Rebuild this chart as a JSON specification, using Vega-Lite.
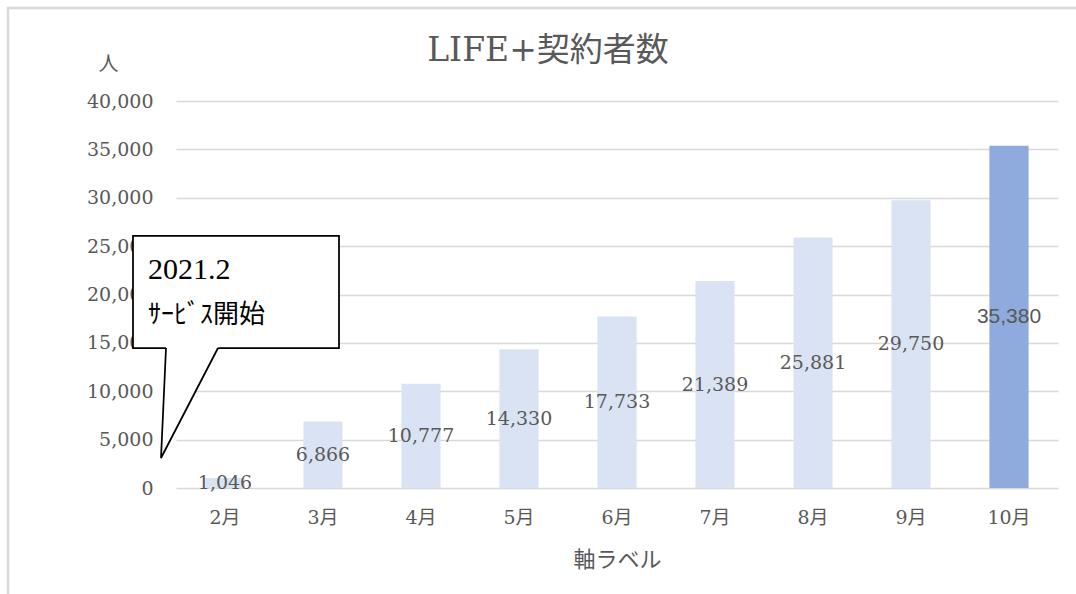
{
  "$schema": "https://vega.github.io/schema/vega-lite/v6.json",
  "width": 882,
  "height": 387,
  "autosize": "none",
  "padding": {"left": 176, "top": 101, "right": 18, "bottom": 106},
  "background": "white",
  "title": {
    "text": "LIFE+契約者数",
    "font": "DejaVu Serif, Noto Sans CJK JP",
    "fontSize": 33,
    "fontWeight": "normal",
    "color": "#595959",
    "anchor": "middle",
    "frame": "group",
    "dx": -69,
    "dy": 87,
    "offset": 0,
    "baseline": "alphabetic"
  },
  "config": {"view": {"stroke": null}},
  "datasets": {
    "contracts": [
      {"month": "2月", "value": 1046},
      {"month": "3月", "value": 6866},
      {"month": "4月", "value": 10777},
      {"month": "5月", "value": 14330},
      {"month": "6月", "value": 17733},
      {"month": "7月", "value": 21389},
      {"month": "8月", "value": 25881},
      {"month": "9月", "value": 29750},
      {"month": "10月", "value": 35380}
    ],
    "pointerFill": [
      {"y": 14625, "x": -0.1013, "x2": 0.4365},
      {"y": 3101, "x": -0.153, "x2": -0.153}
    ],
    "pointerEdge": [
      {"o": 1, "x": -0.102, "y": 14470},
      {"o": 2, "x": -0.153, "y": 3101},
      {"o": 3, "x": 0.4286, "y": 14470}
    ]
  },
  "resolve": {"scale": {"x": "independent", "y": "independent"}},
  "layer": [
    {
      "data": {"values": [{}]},
      "mark": {"type": "rect", "filled": false, "stroke": "#d9d9d9", "strokeWidth": 2.5, "clip": false},
      "encoding": {
        "x": {"datum": -1.714, "type": "quantitative", "scale": {"domain": [0, 9], "nice": false, "zero": false}, "axis": null},
        "x2": {"datum": 20},
        "y": {"datum": 49612, "type": "quantitative", "scale": {"domain": [0, 40000], "nice": false}, "axis": null},
        "y2": {"datum": -30000}
      }
    },
    {
      "data": {"name": "contracts"},
      "mark": {"type": "bar"},
      "encoding": {
        "x": {
          "field": "month", "type": "nominal", "sort": null,
          "scale": {"domain": ["2月", "3月", "4月", "5月", "6月", "7月", "8月", "9月", "10月"], "paddingInner": 0.6, "paddingOuter": 0.3},
          "axis": {
            "title": "軸ラベル", "labelAngle": 0,
            "labelFont": "DejaVu Serif, Noto Sans CJK JP", "labelFontSize": 19, "labelColor": "#595959",
            "labelPadding": 29, "labelBaseline": "middle",
            "ticks": false, "tickSize": 0, "domain": false, "grid": false,
            "titleFont": "Noto Sans CJK JP", "titleFontSize": 22, "titleColor": "#595959", "titleFontWeight": "normal",
            "titleY": 71, "titleBaseline": "middle"
          }
        },
        "y": {
          "field": "value", "type": "quantitative",
          "scale": {"domain": [0, 40000], "nice": false},
          "axis": {
            "title": "人", "titleAngle": 0, "titleX": -68, "titleY": -37, "titleAlign": "center", "titleBaseline": "middle",
            "titleFont": "Noto Sans CJK JP", "titleFontSize": 20, "titleColor": "#595959", "titleFontWeight": "normal",
            "format": ",.0f", "values": [0, 5000, 10000, 15000, 20000, 25000, 30000, 35000, 40000],
            "labelFont": "DejaVu Serif", "labelFontSize": 19, "labelColor": "#595959", "labelPadding": 23,
            "ticks": false, "tickSize": 0, "domain": false,
            "grid": true, "gridColor": "#d9d9d9", "gridWidth": 1.5
          }
        },
        "color": {"condition": {"test": "datum.month === '10月'", "value": "#8faadc"}, "value": "#dae3f3"}
      }
    },
    {
      "data": {"name": "contracts"},
      "transform": [{"filter": "datum.month !== '10月'"}],
      "mark": {"type": "text", "font": "DejaVu Serif", "fontSize": 19, "color": "#595959", "baseline": "middle", "align": "center"},
      "encoding": {
        "x": {"field": "month", "type": "nominal", "sort": null, "scale": {"domain": ["2月", "3月", "4月", "5月", "6月", "7月", "8月", "9月", "10月"], "paddingInner": 0.6, "paddingOuter": 0.3}, "axis": null},
        "y": {"field": "value", "type": "quantitative", "scale": {"domain": [0, 80000], "nice": false}, "axis": null},
        "text": {"field": "value", "type": "quantitative", "format": ","}
      }
    },
    {
      "data": {"name": "contracts"},
      "transform": [{"filter": "datum.month === '10月'"}],
      "mark": {"type": "text", "font": "Liberation Sans", "fontSize": 21, "color": "#595959", "baseline": "middle", "align": "center"},
      "encoding": {
        "x": {"field": "month", "type": "nominal", "sort": null, "scale": {"domain": ["2月", "3月", "4月", "5月", "6月", "7月", "8月", "9月", "10月"], "paddingInner": 0.6, "paddingOuter": 0.3}, "axis": null},
        "y": {"field": "value", "type": "quantitative", "scale": {"domain": [0, 80000], "nice": false}, "axis": null},
        "text": {"field": "value", "type": "quantitative", "format": ","}
      }
    },
    {
      "data": {"values": [{}]},
      "mark": {"type": "rect", "fill": "white", "stroke": "black", "strokeWidth": 1.75, "clip": false},
      "encoding": {
        "x": {"datum": -0.4388, "type": "quantitative", "scale": {"domain": [0, 9], "nice": false, "zero": false}, "axis": null},
        "x2": {"datum": 1.6633},
        "y": {"datum": 26047, "type": "quantitative", "scale": {"domain": [0, 40000], "nice": false}, "axis": null},
        "y2": {"datum": 14470}
      }
    },
    {
      "data": {"name": "pointerFill"},
      "mark": {"type": "area", "orient": "horizontal", "fill": "white", "clip": false},
      "encoding": {
        "y": {"field": "y", "type": "quantitative", "scale": {"domain": [0, 40000], "nice": false}, "axis": null},
        "x": {"field": "x", "type": "quantitative", "scale": {"domain": [0, 9], "nice": false, "zero": false}, "axis": null},
        "x2": {"field": "x2"}
      }
    },
    {
      "data": {"name": "pointerEdge"},
      "mark": {"type": "line", "color": "black", "strokeWidth": 1.75, "clip": false},
      "encoding": {
        "x": {"field": "x", "type": "quantitative", "scale": {"domain": [0, 9], "nice": false, "zero": false}, "axis": null},
        "y": {"field": "y", "type": "quantitative", "scale": {"domain": [0, 40000], "nice": false}, "axis": null},
        "order": {"field": "o", "type": "quantitative"}
      }
    },
    {
      "data": {"values": [{}]},
      "mark": {"type": "text", "text": "2021.2", "font": "Liberation Serif", "fontSize": 30, "color": "black", "align": "left", "baseline": "middle"},
      "encoding": {
        "x": {"datum": -0.286, "type": "quantitative", "scale": {"domain": [0, 9], "nice": false, "zero": false}, "axis": null},
        "y": {"datum": 22532, "type": "quantitative", "scale": {"domain": [0, 40000], "nice": false}, "axis": null}
      }
    },
    {
      "data": {"values": [{}]},
      "mark": {"type": "text", "text": "ｻｰﾋﾞｽ開始", "font": "Noto Sans CJK JP", "fontSize": 26, "color": "black", "align": "left", "baseline": "middle"},
      "encoding": {
        "x": {"datum": -0.286, "type": "quantitative", "scale": {"domain": [0, 9], "nice": false, "zero": false}, "axis": null},
        "y": {"datum": 17881, "type": "quantitative", "scale": {"domain": [0, 40000], "nice": false}, "axis": null}
      }
    }
  ]
}
